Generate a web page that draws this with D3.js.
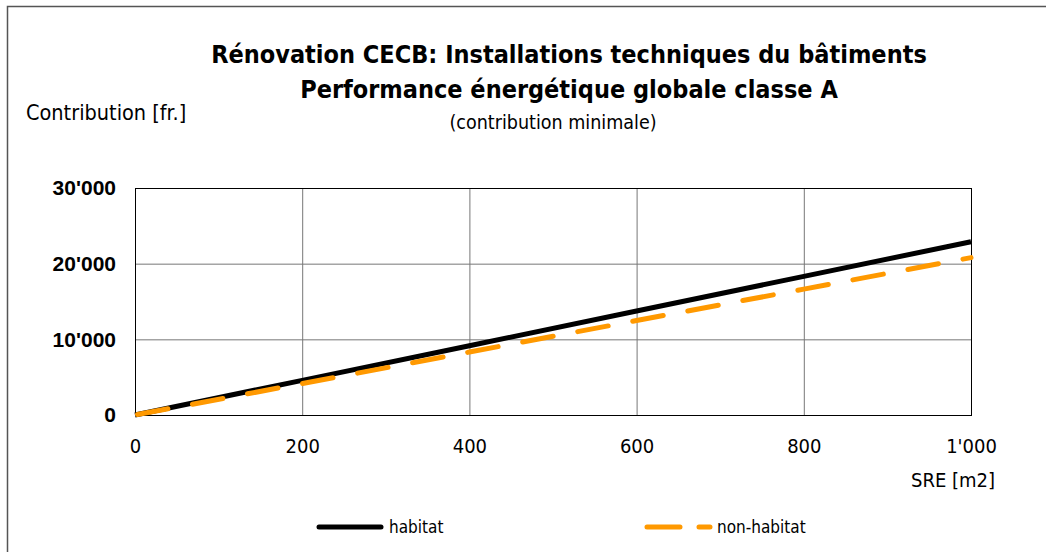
<!DOCTYPE html>
<html>
<head>
<meta charset="utf-8">
<script src="https://cdn.jsdelivr.net/npm/d3@7"></script>
<style>
  body { margin: 0; background: #fff; }
  svg text { font-family: "DejaVu Sans Condensed", "DejaVu Sans", sans-serif; fill: #000; }
</style>
</head>
<body>
<script>
const w = 1046;
const h = 552;

// data
const sre = [0, 200, 400, 600, 800, 1000];
const habitat = [0, 4580, 9160, 13740, 18320, 22900];
const nonHabitat = [0, 4160, 8320, 12480, 16640, 20800];
const xTicks = [0, 200, 400, 600, 800, 1000];
const yTicks = [0, 10000, 20000, 30000];

const margin = { left: 135, right: 75, top: 188, bottom: 137 };

const xScale = d3.scaleLinear()
  .domain([0, 1000])
  .range([margin.left, w - margin.right]);

const yScale = d3.scaleLinear()
  .domain([0, 30000])
  .range([h - margin.bottom, margin.top]);

const fmt = (d) => d3.format(",")(d).replace(/,/g, "'");

const svg = d3.select("body")
  .append("svg")
  .attr("width", w)
  .attr("height", h);

// outer frame (runs off the page at right / bottom)
svg.append("rect")
  .attr("x", 7.5).attr("y", 6.5)
  .attr("width", w + 20).attr("height", h + 20)
  .attr("fill", "none")
  .attr("stroke", "#555")
  .attr("stroke-width", 1.5);

// grid
svg.append("g")
  .selectAll("line.vg")
  .data(xTicks.slice(1, -1))
  .join("line")
  .attr("x1", (d) => xScale(d) + 0.5).attr("x2", (d) => xScale(d) + 0.5)
  .attr("y1", yScale(0)).attr("y2", yScale(30000))
  .attr("stroke", "#777").attr("stroke-width", 1);

svg.append("g")
  .selectAll("line.hg")
  .data(yTicks.slice(1, -1))
  .join("line")
  .attr("y1", (d) => yScale(d) + 0.5).attr("y2", (d) => yScale(d) + 0.5)
  .attr("x1", xScale(0)).attr("x2", xScale(1000))
  .attr("stroke", "#777").attr("stroke-width", 1);

// plot border
svg.append("rect")
  .attr("x", xScale(0) + 0.5).attr("y", yScale(30000) + 0.5)
  .attr("width", xScale(1000) - xScale(0))
  .attr("height", yScale(0) - yScale(30000))
  .attr("fill", "none")
  .attr("stroke", "#000")
  .attr("stroke-width", 1);

// axes
const xAxis = d3.axisBottom(xScale)
  .tickValues(xTicks)
  .tickSize(0)
  .tickPadding(24)
  .tickFormat(fmt);

const yAxis = d3.axisLeft(yScale)
  .tickValues(yTicks)
  .tickSize(0)
  .tickPadding(19)
  .tickFormat(fmt);

const gx = svg.append("g")
  .attr("transform", "translate(0," + yScale(0) + ")")
  .attr("class", "x-axis")
  .call(xAxis);
gx.select(".domain").remove();
gx.selectAll("text")
  .attr("font-family", null)
  .style("font-size", "20px");

const gy = svg.append("g")
  .attr("transform", "translate(" + xScale(0) + ",0)")
  .attr("class", "y-axis")
  .call(yAxis);
gy.select(".domain").remove();
gy.selectAll("text")
  .style("font-family", "'Liberation Sans', Arial, sans-serif")
  .style("font-weight", "bold")
  .style("font-size", "21px");

// lines
const line = d3.line()
  .x((d, i) => xScale(sre[i]))
  .y((d) => yScale(d));

svg.append("path")
  .datum(habitat)
  .attr("d", line)
  .attr("fill", "none")
  .attr("stroke", "#000")
  .attr("stroke-width", 5);

svg.append("path")
  .datum(nonHabitat)
  .attr("d", line)
  .attr("fill", "none")
  .attr("stroke", "#ff9900")
  .attr("stroke-width", 5)
  .attr("stroke-linecap", "round")
  .attr("stroke-dasharray", "31,25")
  .attr("stroke-dashoffset", -2.5);

// titles
svg.append("text")
  .attr("x", 569).attr("y", 63)
  .attr("text-anchor", "middle")
  .attr("id", "title")
  .style("font-weight", "bold")
  .style("font-size", "25px")
  .text("Rénovation CECB: Installations techniques du bâtiments");

svg.append("text")
  .attr("x", 569).attr("y", 98)
  .attr("text-anchor", "middle")
  .style("font-weight", "bold")
  .style("font-size", "25px")
  .text("Performance énergétique globale classe A");

svg.append("text")
  .attr("x", 553).attr("y", 129)
  .attr("text-anchor", "middle")
  .style("font-size", "19.5px")
  .text("(contribution minimale)");

svg.append("text")
  .attr("x", 26).attr("y", 120)
  .style("font-size", "21.5px")
  .text("Contribution [fr.]");

svg.append("text")
  .attr("x", 995).attr("y", 487)
  .attr("text-anchor", "end")
  .style("font-size", "20px")
  .text("SRE [m2]");

// legend
const legend = svg.append("g");
legend.append("line")
  .attr("x1", 319).attr("x2", 381)
  .attr("y1", 527).attr("y2", 527)
  .attr("stroke", "#000").attr("stroke-width", 5)
  .attr("stroke-linecap", "round");
legend.append("text")
  .attr("x", 389).attr("y", 533)
  .style("font-size", "17px")
  .text("habitat");

legend.append("line")
  .attr("x1", 647).attr("x2", 710)
  .attr("y1", 527).attr("y2", 527)
  .attr("stroke", "#ff9900").attr("stroke-width", 5)
  .attr("stroke-linecap", "round")
  .attr("stroke-dasharray", "33,19");
legend.append("text")
  .attr("x", 717).attr("y", 533)
  .style("font-size", "17px")
  .text("non-habitat");
</script>
</body>
</html>
